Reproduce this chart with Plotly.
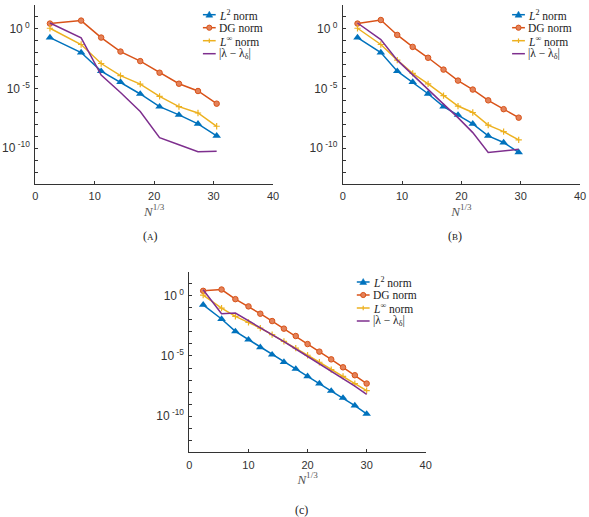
import plotly.graph_objects as go

W, H = 589, 517

# ---------------- data (log10 of errors) ----------------
xA = [2.48, 7.72, 11.09, 14.34, 17.66, 20.91, 24.17, 27.37, 30.51]
A_L2 = [-0.75, -2.0, -3.56, -4.47, -5.47, -6.53, -7.22, -7.97, -8.97]
A_DG = [0.42, 0.67, -0.75, -1.92, -2.72, -3.69, -4.61, -5.22, -6.28]
A_Linf = [0.03, -1.33, -2.92, -3.94, -4.64, -5.67, -6.53, -7.06, -8.17]
A_lam = [0.47, -0.78, -3.89, -5.35, -6.94, -9.13, -9.72, -10.3, -10.25]

xB = [2.49, 6.42, 9.19, 11.79, 14.39, 16.99, 19.43, 21.92, 24.52, 27.12, 29.66]
B_L2 = [-0.75, -2.0, -3.56, -4.47, -5.45, -6.53, -7.22, -7.97, -8.97, -9.53, -10.35]
B_DG = [0.42, 0.72, -0.53, -1.53, -2.44, -3.43, -4.35, -5.1, -6.0, -6.74, -7.45]
B_Linf = [0.03, -1.33, -2.64, -3.75, -4.62, -5.6, -6.48, -7.02, -8.07, -8.62, -9.31]
B_lam = [0.47, -0.92, -2.64, -3.89, -5.1, -6.32, -7.45, -8.7, -10.36, -10.22, -10.1]

xC = [2.33, 5.44, 7.78, 10.0, 12.0, 14.0, 16.0, 18.0, 20.0, 22.0, 24.0, 26.0, 28.0, 30.0]
C_L2 = [-0.75, -1.93, -2.96, -3.65, -4.28, -4.89, -5.50, -6.08, -6.69, -7.29, -7.90, -8.48, -9.12, -9.81]
C_DG = [0.41, 0.52, -0.28, -0.88, -1.49, -2.10, -2.73, -3.34, -4.01, -4.64, -5.28, -5.94, -6.60, -7.29]
C_Linf = [0.06, -1.02, -1.71, -2.21, -2.68, -3.23, -3.78, -4.34, -4.94, -5.52, -6.13, -6.69, -7.29, -7.87]
C_lam = [0.50, -1.49, -1.44, -2.07, -2.62, -3.20, -3.81, -4.42, -5.03, -5.64, -6.27, -6.91, -7.51, -8.18]

series_names = ["<i>L</i><sup>2</sup> norm", "DG norm", "<i>L</i><sup>\u221e</sup> norm",
                "|\u03bb \u2212 \u03bb<sub>\u03b4</sub>|"]
captions = ["(<span style='font-size:9px'>A</span>)", "(<span style='font-size:9px'>B</span>)", "(c)"]
xticks = [0, 10, 20, 30, 40]
ydecades = list(range(-13, 3))
ymajor = [0, -5, -10]
ylabels = ["10<sup> 0</sup>", "10<sup> -5</sup>", "10<sup> -10</sup>"]

COL = ["#0072BD", "#D95319", "#EDB120", "#7E2F8E"]
AX = "#333333"

panels = [
    (xA, [A_L2, A_DG, A_Linf, A_lam]),
    (xB, [B_L2, B_DG, B_Linf, B_lam]),
    (xC, [C_L2, C_DG, C_Linf, C_lam]),
]

# pixel layout of the three panels: (left, right, top, bottom)
boxes = [(32.7, 274.3, 4.7, 184.0), (345.0, 586.0, 4.7, 184.0), (189.3, 429.3, 271.7, 452.3)]
caption_pos = [(149.3, 236.5), (459.3, 236.0), (303.3, 509.5)]
legend_pos = [(203.0, 14.7), (517.0, 14.7), (359.3, 282.0)]  # (line start x, first row y)


def px(x):
    return x / W


def py(y):
    return 1 - y / H


fig = go.Figure()
markers = [
    dict(symbol="triangle-up", size=7.5, color=COL[0]),
    dict(symbol="circle", size=5.5, color="#E3825A", line=dict(color=COL[1], width=1)),
    dict(symbol="cross-thin", size=4.5, color=COL[2], line=dict(color=COL[2], width=1.2)),
    None,
]

for i, (xs, ys_list) in enumerate(panels):
    sfx = "" if i == 0 else str(i + 1)
    for j, ys in enumerate(ys_list):
        yvals = [10 ** v for v in ys]
        kw = dict(x=xs, y=yvals, xaxis="x" + sfx, yaxis="y" + sfx, showlegend=False,
                  line=dict(color=COL[j], width=1.5), name=series_names[j])
        if markers[j] is not None:
            kw["mode"] = "lines+markers"
            kw["marker"] = markers[j]
        else:
            kw["mode"] = "lines"
        fig.add_trace(go.Scatter(**kw))

    l, r, t, b = boxes[i]
    xa = dict(domain=[px(l), px(r)], range=[0, 40], tickvals=xticks, ticks="inside", ticklen=3,
              tickcolor=AX, showline=True, linecolor=AX, linewidth=1, showgrid=False, zeroline=False,
              tickfont=dict(family="Liberation Sans", size=11, color=AX), ticklabelstandoff=2,
              anchor="y" + sfx,
              title=dict(text="<i>N</i><sup>1/3</sup>", standoff=1,
                         font=dict(family="Liberation Serif", size=13, color="#555555")))
    ya = dict(domain=[py(b), py(t)], type="log", range=[-13, 2],
              tickvals=[10 ** k for k in ymajor], ticktext=ylabels,
              minor=dict(tickvals=[10 ** k for k in ydecades], ticks="inside", ticklen=3,
                         tickcolor=AX, showgrid=False),
              ticks="inside", ticklen=3, tickcolor=AX, showline=True, linecolor=AX, linewidth=1,
              showgrid=False, zeroline=False, anchor="x" + sfx, ticklabelstandoff=2,
              tickfont=dict(family="Liberation Sans", size=12, color=AX))
    fig.update_layout(**{"xaxis" + sfx: xa, "yaxis" + sfx: ya})

    # caption
    cx, cy = caption_pos[i]
    fig.add_annotation(x=px(cx), y=py(cy), xref="paper", yref="paper", text=captions[i],
                       showarrow=False, xanchor="center", yanchor="middle", borderpad=0,
                       font=dict(family="Liberation Serif", size=12, color="#222222"))

    # legend (drawn as shapes + text)
    lx, ly = legend_pos[i]
    for j in range(4):
        yy = ly + 13.0 * j
        x0, x1 = lx, lx + 13
        fig.add_shape(type="line", xref="paper", yref="paper", x0=px(x0), x1=px(x1),
                      y0=py(yy), y1=py(yy), line=dict(color=COL[j], width=1.5))
        c = (x0 + x1) / 2
        if j == 0:
            path = "M %f,%f L %f,%f L %f,%f Z" % (px(c), py(yy - 3.5), px(c - 3.5), py(yy + 2.5),
                                                 px(c + 3.5), py(yy + 2.5))
            fig.add_shape(type="path", xref="paper", yref="paper", path=path,
                          fillcolor=COL[0], line=dict(color=COL[0], width=0.5))
        elif j == 1:
            rr = 2.6
            fig.add_shape(type="circle", xref="paper", yref="paper", x0=px(c - rr), x1=px(c + rr),
                          y0=py(yy + rr), y1=py(yy - rr), fillcolor="#E3825A",
                          line=dict(color=COL[1], width=1))
        elif j == 2:
            fig.add_shape(type="line", xref="paper", yref="paper", x0=px(c), x1=px(c),
                          y0=py(yy - 2.3), y1=py(yy + 2.3), line=dict(color=COL[2], width=1.2))
        fig.add_annotation(x=px(x1 + 2), y=py(yy), xref="paper", yref="paper",
                           text=series_names[j], showarrow=False, xanchor="left", yanchor="middle",
                           borderpad=0,
                           font=dict(family="Liberation Serif", size=11.5, color="#222222"))

fig.update_layout(width=W, height=H, margin=dict(l=0, r=0, t=0, b=0),
                  paper_bgcolor="white", plot_bgcolor="white", showlegend=False)

fig.write_html("out.html")
